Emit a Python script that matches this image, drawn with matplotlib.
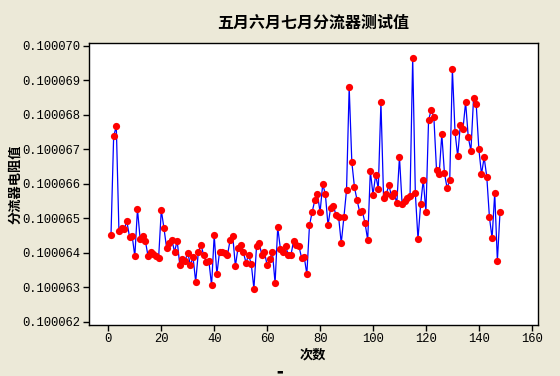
import numpy as np
import matplotlib.pyplot as plt
from matplotlib.ticker import FormatStrFormatter, MultipleLocator

# deviation from 0.1 ohm, in micro-ohm
dev_uohm = [
    64.52, 67.38, 67.67, 64.62, 64.72, 64.70, 64.91, 64.46, 64.49, 63.90,
    65.27, 64.41, 64.50, 64.34, 63.90, 64.02, 63.96, 63.91, 63.86, 65.24,
    64.72, 64.15, 64.28, 64.38, 64.03, 64.35, 63.64, 63.83, 63.77, 64.01,
    63.64, 63.88, 63.16, 64.02, 64.23, 63.94, 63.73, 63.75, 63.06, 64.51,
    63.38, 64.02, 64.02, 64.00, 63.93, 64.37, 64.49, 63.61, 64.15, 64.23,
    64.02, 63.72, 63.93, 63.68, 62.96, 64.20, 64.28, 63.94, 64.02, 63.64,
    63.83, 64.02, 63.12, 64.74, 64.12, 64.02, 64.19, 63.94, 63.94, 64.35,
    64.22, 64.20, 63.86, 63.89, 63.38, 64.80, 65.18, 65.52, 65.71, 65.18,
    65.99, 65.70, 64.80, 65.31, 65.37, 65.10, 65.05, 64.28, 65.03, 65.82,
    68.80, 66.63, 65.90, 65.52, 65.18, 65.20, 64.86, 64.37, 66.38, 65.68,
    66.26, 65.86, 68.37, 65.59, 65.70, 65.96, 65.65, 65.73, 65.44, 66.78,
    65.41, 65.51, 65.58, 65.65, 69.65, 65.73, 64.40, 65.41, 66.12, 65.18,
    67.85, 68.14, 67.93, 66.41, 66.28, 67.44, 66.31, 65.88, 66.11, 69.32,
    67.50, 66.80, 67.70, 67.59, 68.37, 67.35, 66.96, 68.48, 68.31, 67.01,
    66.28, 66.77, 66.20, 65.03, 64.43, 65.73, 63.77, 65.18,
]
resistance = 0.1 + np.array(dev_uohm) * 1e-6
count = np.arange(1, len(resistance) + 1)

title = '五月六月七月分流器测试值'
xlabel = '次数'
ylabel = '分流器电阻值'

bg = '#ECE9D8'
cjk = ['Noto Sans CJK SC', 'DejaVu Sans']

fig = plt.figure(figsize=(5.6, 3.76), dpi=100, facecolor=bg)
ax = fig.add_axes([0.159, 0.136, 0.801, 0.750])
ax.set_facecolor('white')

ax.plot(count, resistance, color='blue', lw=0.9, zorder=2)
ax.plot(count, resistance, 'o', color='red', ms=5.2, mec='red', mew=0, zorder=3)

ax.set_xlim(-7.3, 162.2)
ax.set_ylim(0.1 + 61.913e-6, 0.1 + 70.087e-6)
ax.xaxis.set_major_locator(MultipleLocator(20))
ax.yaxis.set_major_locator(MultipleLocator(1e-6))
ax.yaxis.set_major_formatter(FormatStrFormatter('%.6f'))

for s in ax.spines.values():
    s.set_linewidth(1.0)
    s.set_color('black')
ax.tick_params(direction='out', length=4, width=1, color='black',
               labelsize=8.7, pad=2)
for lab in ax.get_xticklabels() + ax.get_yticklabels():
    lab.set_family('Liberation Mono')

ax.set_title(title, family=cjk, fontsize=11.5, fontweight='bold', pad=11)
ax.set_xlabel(xlabel, family=cjk, fontsize=9.5, fontweight='bold', labelpad=2)
ax.set_ylabel(ylabel, family=cjk, fontsize=9.5, fontweight='bold', labelpad=0)

fig.text(0.5, 0.003, '▬', fontsize=5, ha='center', va='bottom', color='black')

fig.savefig('out.png', dpi=100, facecolor=bg)
